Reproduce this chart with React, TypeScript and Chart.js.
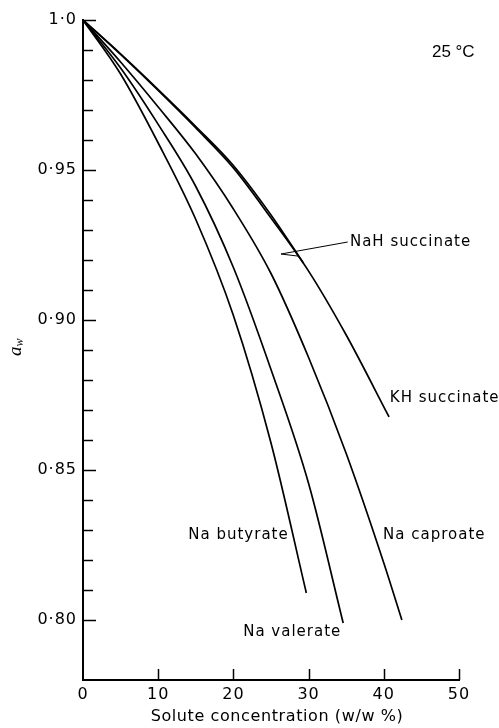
import React, { useEffect, useRef } from 'react';
import { Chart, registerables } from 'chart.js';

Chart.register(...registerables);

// ---- data ----
const butyrateX = [0, 5, 10, 15, 20, 25, 29.7];
const butyrateY = [1.0, 0.982, 0.959, 0.9335, 0.9015, 0.859, 0.809];

const valerateX = [0, 5, 10, 15, 20, 25, 30, 34.6];
const valerateY = [1.0, 0.984, 0.9652, 0.9445, 0.9175, 0.8835, 0.8455, 0.799];

const caproateX = [0, 5, 10, 15, 20, 25, 30, 35, 40, 42.4];
const caproateY = [1.0, 0.986, 0.971, 0.9553, 0.937, 0.9155, 0.8875, 0.8555, 0.819, 0.8];

const khSuccinateX = [0, 5, 10, 15, 20, 25, 30, 35, 40.7];
const khSuccinateY = [1.0, 0.9885, 0.9765, 0.964, 0.9507, 0.934, 0.9163, 0.895, 0.8677];

const nahSuccinateX = [0, 5, 10, 15, 20, 25, 29.3];
const nahSuccinateY = [1.0, 0.9887, 0.9768, 0.9645, 0.9515, 0.935, 0.919];

const seriesNames = ['Na butyrate', 'Na valerate', 'Na caproate', 'KH succinate', 'NaH succinate'];

const xTickValues = [0, 10, 20, 30, 40, 50];
const yMajorValues = [0.8, 0.85, 0.9, 0.95, 1.0];
const yMajorLabels = ['0·80', '0·85', '0·90', '0·95', '1·0'];

const xTitle = 'Solute concentration (w/w %)';
const tempLabel = '25 °C';

// annotation anchors in data coordinates
const curveLabels = [
  { text: 'NaH succinate', x: 35.5, y: 0.926 },
  { text: 'KH succinate', x: 40.8, y: 0.874 },
  { text: 'Na butyrate', x: 14.0, y: 0.8283 },
  { text: 'Na caproate', x: 39.9, y: 0.8283 },
  { text: 'Na valerate', x: 21.3, y: 0.796 },
];
const leaderLine = [
  { x: 35.2, y: 0.926 },
  { x: 26.33, y: 0.922 },
  { x: 28.6, y: 0.9213 },
];

const toPoints = (xs: number[], ys: number[]) => xs.map((x, i) => ({ x, y: ys[i] }));

const isMajor = (v: number) => yMajorValues.findIndex((m) => Math.abs(m - v) < 1e-6);

const decorPlugin = {
  id: 'decor',
  beforeDraw(chart: any) {
    (chart.ctx as any).letterSpacing = '1px';
  },
  afterDraw(chart: any) {
    const { ctx, chartArea } = chart;
    const xs = chart.scales.x;
    const ys = chart.scales.y;
    ctx.save();
    ctx.strokeStyle = '#000';
    ctx.fillStyle = '#000';
    ctx.lineWidth = 1.5;
    // inward y ticks
    ys.ticks.forEach((t: any) => {
      if (t.value < 0.7995) return;
      const py = Math.round(ys.getPixelForValue(t.value)) + 0.5;
      const len = isMajor(t.value) >= 0 ? 13 : 10;
      ctx.beginPath();
      ctx.moveTo(chartArea.left, py);
      ctx.lineTo(chartArea.left + len, py);
      ctx.stroke();
    });
    // inward x ticks
    xTickValues.forEach((v) => {
      if (v === 0) return;
      const px = Math.round(xs.getPixelForValue(v)) + 0.5;
      ctx.beginPath();
      ctx.moveTo(px, chartArea.bottom);
      ctx.lineTo(px, chartArea.bottom - 11);
      ctx.stroke();
    });
    // leader line for NaH succinate
    ctx.lineWidth = 1;
    ctx.beginPath();
    leaderLine.forEach((p, i) => {
      const px = xs.getPixelForValue(p.x);
      const py = ys.getPixelForValue(p.y);
      if (i === 0) ctx.moveTo(px, py);
      else ctx.lineTo(px, py);
    });
    ctx.stroke();
    // curve labels
    ctx.textAlign = 'left';
    ctx.textBaseline = 'middle';
    ctx.font = '15px "DejaVu Sans"';
    (ctx as any).letterSpacing = '1px';
    curveLabels.forEach((l) => {
      ctx.fillText(l.text, xs.getPixelForValue(l.x), ys.getPixelForValue(l.y));
    });
    // temperature label
    ctx.font = '17px "Liberation Sans"';
    (ctx as any).letterSpacing = '0px';
    ctx.fillText(tempLabel, xs.getPixelForValue(46.4), ys.getPixelForValue(0.9893));
    // x title
    ctx.textAlign = 'center';
    ctx.font = '16px "DejaVu Sans"';
    (ctx as any).letterSpacing = '0.6px';
    ctx.fillText(xTitle, xs.getPixelForValue(25.8), 717);
    // y title a_w (rotated)
    ctx.save();
    ctx.translate(21, 356);
    ctx.rotate(-Math.PI / 2);
    ctx.textAlign = 'left';
    ctx.textBaseline = 'alphabetic';
    (ctx as any).letterSpacing = '0px';
    ctx.font = 'italic 19px "Liberation Serif"';
    ctx.fillText('a', 0, 0);
    const aw = ctx.measureText('a').width;
    ctx.font = 'italic 12px "Liberation Serif"';
    ctx.fillText('w', aw, 2);
    ctx.restore();
    ctx.restore();
  },
};

export default function App() {
  const canvasRef = useRef<HTMLCanvasElement | null>(null);

  useEffect(() => {
    if (!canvasRef.current) return;
    const lineStyle = {
      borderColor: '#000',
      borderWidth: 1.7,
      pointRadius: 0,
      fill: false,
      cubicInterpolationMode: 'monotone' as const,
    };
    const chart = new Chart(canvasRef.current, {
      type: 'line',
      data: {
        datasets: [
          { label: seriesNames[0], data: toPoints(butyrateX, butyrateY), ...lineStyle },
          { label: seriesNames[1], data: toPoints(valerateX, valerateY), ...lineStyle },
          { label: seriesNames[2], data: toPoints(caproateX, caproateY), ...lineStyle },
          { label: seriesNames[3], data: toPoints(khSuccinateX, khSuccinateY), ...lineStyle },
          { label: seriesNames[4], data: toPoints(nahSuccinateX, nahSuccinateY), ...lineStyle },
        ],
      },
      options: {
        animation: false,
        responsive: false,
        maintainAspectRatio: false,
        layout: { padding: { top: 20, right: 40, left: 0, bottom: 0 } },
        plugins: { legend: { display: false }, tooltip: { enabled: false } },
        scales: {
          x: {
            type: 'linear',
            min: 0,
            max: 50,
            grid: { display: false, drawTicks: false, tickLength: 0 },
            border: { display: true, color: '#000', width: 2 },
            ticks: {
              stepSize: 10,
              color: '#000',
              font: { family: '"DejaVu Sans"', size: 16 },
              padding: 5,
              maxRotation: 0,
              autoSkip: false,
            },
            afterFit: (scale: any) => {
              scale.height = 48;
            },
          },
          y: {
            type: 'linear',
            min: 0.78,
            max: 1.0,
            grid: { display: false, drawTicks: false, tickLength: 0 },
            border: { display: true, color: '#000', width: 2 },
            ticks: {
              stepSize: 0.01,
              autoSkip: false,
              color: '#000',
              font: { family: '"DejaVu Sans"', size: 16 },
              padding: 6,
              callback: (v: any) => {
                const i = isMajor(Number(v));
                return i >= 0 ? yMajorLabels[i] : '';
              },
            },
            afterFit: (scale: any) => {
              scale.width = 83;
            },
          },
        },
      },
      plugins: [decorPlugin],
    });
    return () => chart.destroy();
  }, []);

  return (
    <div style={{ position: 'fixed', left: 0, top: 0, width: 499, height: 728, background: '#fff' }}>
      <canvas ref={canvasRef} width={499} height={728} style={{ display: 'block' }} />
    </div>
  );
}
